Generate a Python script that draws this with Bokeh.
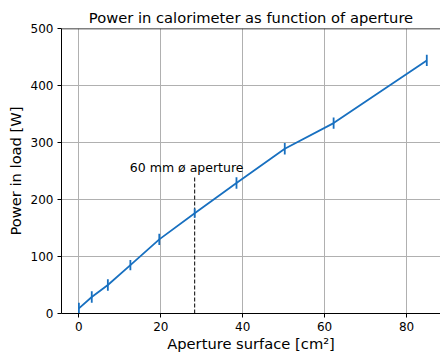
from bokeh.plotting import figure
from bokeh.models import Range1d, FixedTicker, Span, ColumnDataSource
from bokeh.core.properties import value
from bokeh.embed import file_html
from bokeh.resources import INLINE

# --- data ---
aperture = [0.0, 3.14, 7.07, 12.57, 19.63, 28.27, 38.48, 50.27, 62.2, 84.95]
power = [9, 29, 50, 85, 130, 176, 229, 289, 334, 444]
error = [10, 10, 10, 9, 10, 8, 10, 10, 10, 10]
x_ticks = [0, 20, 40, 60, 80]
y_ticks = [0, 100, 200, 300, 400, 500]
marker_x = 28.27          # 60 mm diameter aperture
marker_top = 240
marker_label = "60 mm ø aperture"
marker_label_y = 257

FONT = "DejaVu Sans"
BLUE = "#1870c0"

lower = [p - e for p, e in zip(power, error)]
upper = [p + e for p, e in zip(power, error)]
src = ColumnDataSource(dict(x=aperture, y=power, lo=lower, hi=upper))

p = figure(
    frame_width=379, frame_height=285,
    min_border_left=61, min_border_right=0, min_border_top=28, min_border_bottom=46,
    x_range=Range1d(-4.25, 88.3), y_range=Range1d(0, 500),
    output_backend="svg", toolbar_location=None,
    title="Power in calorimeter as function of aperture",
)
p.title.text_font = FONT
p.title.text_font_size = "14.7px"
p.title.text_font_style = "normal"
p.title.align = "center"
p.title.text_color = "black"
p.title.standoff = 5

p.outline_line_color = None
p.background_fill_color = "white"
p.border_fill_color = "white"

for ax in (p.xaxis[0], p.yaxis[0]):
    ax.major_label_text_font = FONT
    ax.major_label_text_font_size = "12px"
    ax.major_label_text_color = "black"
    ax.axis_label_text_font = FONT
    ax.axis_label_text_font_size = "14.7px"
    ax.axis_label_text_font_style = "normal"
    ax.axis_label_text_color = "black"
    ax.major_tick_out = 4
    ax.major_tick_in = 0
    ax.minor_tick_out = 0
    ax.minor_tick_in = 0
    ax.axis_line_color = "black"
    ax.major_tick_line_color = "black"
    ax.major_label_standoff = 4

p.xaxis[0].ticker = FixedTicker(ticks=x_ticks)
p.yaxis[0].ticker = FixedTicker(ticks=y_ticks)
p.xaxis[0].axis_label = "Aperture surface [cm²]"
p.yaxis[0].axis_label = "Power in load [W]"
p.xaxis[0].axis_label_standoff = 1
p.yaxis[0].axis_label_standoff = 4

p.xgrid.ticker = FixedTicker(ticks=x_ticks)
p.ygrid.ticker = FixedTicker(ticks=y_ticks)
p.grid.grid_line_color = "#b0b0b0"
p.grid.grid_line_width = 1

# top spine
p.add_layout(Span(location=500, dimension="width", line_color="black", line_width=1.5))

# dashed marker
p.segment(x0=[marker_x], y0=[0], x1=[marker_x], y1=[marker_top],
          line_color="black", line_dash="4 2", line_width=1)
p.text(x=[marker_x], y=[marker_label_y], text=[marker_label],
       text_font=value(FONT), text_font_size="12.5px", text_align="center",
       text_baseline="alphabetic", text_color="black", x_offset=-8)

# data
p.line("x", "y", source=src, line_color=BLUE, line_width=1.8)
p.segment(x0="x", y0="lo", x1="x", y1="hi", source=src, line_color=BLUE, line_width=1.8)

open("out.html", "w").write(file_html(p, INLINE))
